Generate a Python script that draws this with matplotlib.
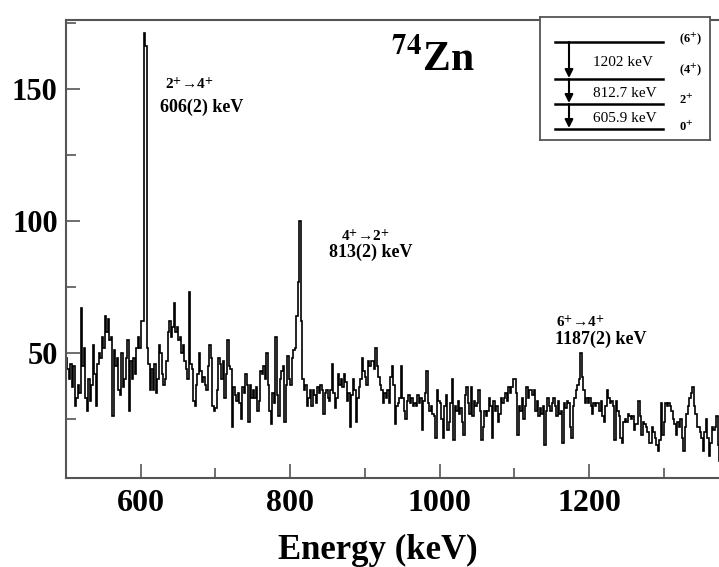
import numpy as np
import matplotlib
matplotlib.use("Agg")
import matplotlib.pyplot as plt

# gamma spectrum, 2 keV bins starting at 500 keV
bin_start = 500
bin_width = 2
counts = [
    # 500-598
    48, 44, 40, 46, 37, 45, 30, 33, 38, 35, 67, 45, 52, 33, 28, 40, 32, 38, 53, 42,
    30, 46, 50, 48, 56, 52, 64, 58, 63, 55, 56, 26, 51, 45, 48, 36, 34, 50, 37, 40,
    48, 55, 28, 47, 40, 48, 42, 52, 56, 52,
    # 600-698
    62, 62, 171, 166, 52, 46, 36, 44, 36, 46, 35, 40, 53, 50, 42, 38, 40, 47, 58, 62,
    56, 60, 69, 58, 60, 55, 56, 50, 53, 47, 44, 40, 73, 46, 44, 32, 30, 38, 42, 50,
    43, 39, 41, 38, 36, 45, 53, 48, 30, 28,
    # 700-798
    29, 36, 48, 46, 40, 47, 33, 42, 55, 45, 44, 22, 37, 34, 32, 35, 31, 25, 37, 35,
    42, 38, 24, 38, 33, 36, 33, 37, 28, 32, 43, 42, 45, 40, 50, 38, 28, 23, 35, 31,
    56, 34, 26, 40, 43, 45, 24, 38, 49, 40,
    # 800-898
    38, 48, 51, 52, 64, 77, 100, 62, 40, 36, 38, 30, 33, 36, 30, 36, 34, 31, 37, 35,
    38, 36, 27, 35, 36, 33, 32, 36, 46, 35, 29, 33, 42, 38, 40, 37, 42, 39, 32, 35,
    22, 34, 40, 36, 24, 33, 37, 40, 48, 43,
    # 900-998
    41, 38, 47, 45, 47, 47, 44, 52, 45, 41, 38, 36, 31, 35, 33, 36, 31, 41, 45, 38,
    23, 30, 31, 33, 45, 33, 28, 25, 32, 34, 31, 33, 30, 31, 30, 34, 31, 33, 21, 32,
    35, 43, 31, 28, 30, 27, 26, 18, 36, 32,
    # 1000-1098
    31, 25, 18, 30, 34, 21, 24, 31, 40, 17, 30, 28, 32, 27, 29, 24, 19, 34, 37, 31,
    27, 37, 26, 32, 30, 31, 36, 28, 17, 22, 28, 26, 28, 33, 30, 18, 32, 28, 30, 24,
    27, 33, 31, 33, 35, 32, 37, 35, 37, 40,
    # 1100-1198
    40, 35, 19, 30, 28, 33, 25, 30, 37, 33, 36, 36, 34, 36, 28, 32, 26, 29, 27, 30,
    15, 28, 33, 30, 28, 31, 33, 30, 26, 32, 27, 28, 16, 31, 29, 32, 31, 22, 18, 30,
    33, 36, 38, 40, 50, 41, 36, 31, 33, 31,
    # 1200-1298
    33, 30, 27, 31, 30, 31, 31, 28, 32, 26, 24, 30, 36, 33, 31, 32, 30, 17, 32, 28,
    26, 18, 16, 24, 25, 24, 27, 26, 25, 26, 21, 23, 23, 32, 26, 19, 24, 23, 22, 20,
    16, 16, 22, 20, 18, 15, 13, 17, 31, 19,
    # 1300-1374
    24, 31, 30, 31, 30, 28, 25, 23, 19, 24, 22, 25, 18, 13, 22, 27, 30, 33, 35, 37,
    30, 27, 22, 22, 20, 18, 13, 20, 25, 18, 11, 16, 22, 21, 22, 26, 15, 9,
]
edges = bin_start + bin_width * np.arange(len(counts) + 1)

# level scheme of 74Zn
level_labels = ["(6$^{+}$)", "(4$^{+}$)", "2$^{+}$", "0$^{+}$"]
gamma_labels = ["1202 keV", "812.7 keV", "605.9 keV"]

# peak annotations
peak_trans = ["2$^{+}$→4$^{+}$", "4$^{+}$→2$^{+}$", "6$^{+}$→4$^{+}$"]
peak_text = ["606(2) keV", "813(2) keV", "1187(2) keV"]

plt.rcParams["font.family"] = ["Liberation Serif", "DejaVu Serif"]
plt.rcParams["font.weight"] = "bold"
plt.rcParams["mathtext.fontset"] = "stix"

fig = plt.figure(figsize=(7.19, 5.67), dpi=100)
ax = fig.add_axes([66 / 719, 1 - 478 / 567, 656 / 719, 458 / 567])
ax.stairs(counts, edges, color="black", lw=1.2)

ax.set_xlim(500, 1378)
ax.set_ylim(2.7, 176)
ax.set_xticks([600, 800, 1000, 1200])
ax.set_xticks([700, 900, 1100, 1300], minor=True)
ax.set_yticks([50, 100, 150])
ax.set_yticks([25, 75, 125, 175], minor=True)
ax.tick_params(which="both", direction="in", color="#555555", width=1.2)
ax.tick_params(which="major", length=10)
ax.tick_params(which="minor", length=7)
ax.tick_params(axis="x", labelsize=23, pad=8)
ax.tick_params(axis="y", labelsize=22, pad=6)
for lab in ax.get_xticklabels() + ax.get_yticklabels():
    lab.set_fontweight("bold")
for sp in ax.spines.values():
    sp.set_color("#555555")
    sp.set_linewidth(1.5)
ax.set_xlabel("Energy (keV)", fontsize=25, fontweight="bold")
ax.xaxis.set_label_coords(0.475, -0.122)

ax.text(0.496, 0.913, r"$^{\mathbf{74}}$Zn", transform=ax.transAxes,
        fontsize=30, fontweight="bold", ha="left", va="center")

trans_pos = [(633, 151.5), (868, 94), (1156, 61.7)]
text_pos = [(626, 143), (852, 88), (1154, 55)]
for (xt, yt), (xe, ye), tr, lab in zip(trans_pos, text_pos, peak_trans, peak_text):
    ax.text(xt, yt, tr, fontsize=11, fontweight="bold", ha="left", va="center")
    ax.text(xe, ye, lab, fontsize=13, fontweight="bold", ha="left", va="center")

# inset level scheme
ins = fig.add_axes([540 / 719, 1 - 140 / 567, 170 / 719, 123 / 567])
ins.set_xlim(0, 170)
ins.set_ylim(123, 0)
ins.set_xticks([])
ins.set_yticks([])
for sp in ins.spines.values():
    sp.set_color("#555555")
    sp.set_linewidth(1.3)
level_y = [25, 62, 87, 112]
for yl in level_y:
    ins.plot([15, 123], [yl, yl], color="black", lw=1.8)
for yl, lab in zip([22, 53, 83, 110], level_labels):
    ins.text(139, yl, lab, fontsize=9, ha="left", va="center")
for i, lab in enumerate(gamma_labels):
    ins.annotate("", xy=(29, level_y[i + 1] - 1), xytext=(29, level_y[i]),
                 arrowprops=dict(arrowstyle="-|>", color="black", lw=1.5,
                                 mutation_scale=12, shrinkA=0, shrinkB=0))
    ins.text(53, (level_y[i] + level_y[i + 1]) / 2 + 2, lab, fontsize=11,
             fontweight="normal", ha="left", va="center")

fig.savefig("out.png", dpi=100)
